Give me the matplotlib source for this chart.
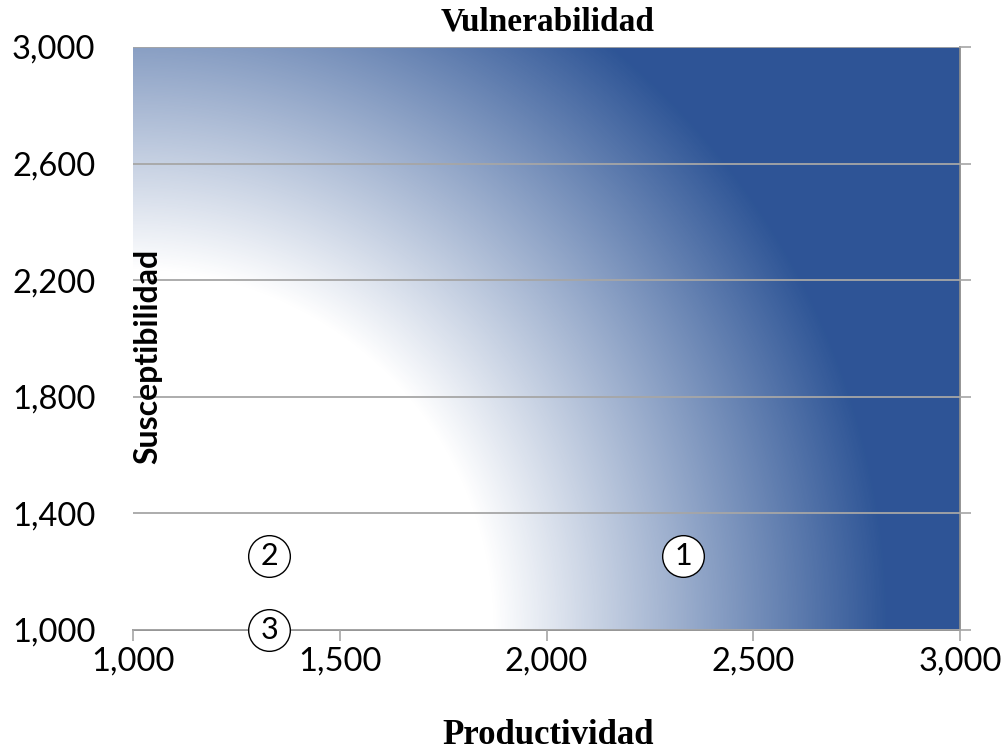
import numpy as np
import matplotlib.pyplot as plt
from matplotlib.colors import LinearSegmentedColormap

# scatter points
prod = [2330, 1330, 1330]
susc = [1255, 1255, 1000]
labels = ["1", "2", "3"]

x_ticks = [1000, 1500, 2000, 2500, 3000]
y_ticks = [1000, 1400, 1800, 2200, 2600, 3000]

blue = "#2E5596"
grid_gray = "#A6A6A6"

fig = plt.figure(figsize=(10.05, 7.51), dpi=100)
ax = fig.add_axes([133 / 1005, 1 - 630 / 751, 827 / 1005, 583 / 751])

# radial background gradient from the bottom-left corner (in pixel space)
w, h = 827, 583
px = np.arange(w)[None, :] + 0.5
py = np.arange(h)[:, None] + 0.5
r = np.sqrt(px ** 2 + py ** 2)
t = np.clip((r - 360) / 395, 0, 1)
cmap = LinearSegmentedColormap.from_list("wb", ["#FFFFFF", blue])
ax.imshow(t, origin="lower", extent=[1000, 3000, 1000, 3000], cmap=cmap,
          vmin=0, vmax=1, aspect="auto", interpolation="bilinear", zorder=0)

ax.set_xlim(1000, 3000)
ax.set_ylim(1000, 3000)
ax.set_xticks(x_ticks)
ax.set_yticks(y_ticks)
ax.set_xticklabels([f"{v:,}" for v in x_ticks])
ax.set_yticklabels([f"{v:,}" for v in y_ticks])

for lab in ax.get_xticklabels() + ax.get_yticklabels():
    lab.set_fontfamily("Lato")
    lab.set_fontsize(23.5)

ax.grid(axis="y", color=grid_gray, linewidth=1.3)
ax.set_axisbelow(False)

for s in ["top", "left"]:
    ax.spines[s].set_visible(False)
for s in ["bottom", "right"]:
    ax.spines[s].set_color("#8C8C8C")
    ax.spines[s].set_linewidth(1.3)

ax.tick_params(axis="x", direction="out", length=8, width=1.2, color=grid_gray, pad=4)
ax.tick_params(axis="y", direction="out", length=8, width=1.2, color=grid_gray,
               left=False, right=True, labelleft=True, labelright=False, pad=19)

# numbered circle markers
ax.scatter(prod, susc, s=30 ** 2, facecolor="white", edgecolor="black",
           linewidth=1.0, zorder=4, clip_on=False)
for x, y, lab in zip(prod, susc, labels):
    ax.text(x, y, lab, ha="center", va="center", fontsize=22, family="Lato",
            zorder=5, clip_on=False)

fig.text(548 / 1005, 1 - 22 / 751, "Vulnerabilidad", ha="center", va="center",
         fontsize=24, fontweight="bold", family="Liberation Serif")
fig.text(548 / 1005, 1 - 735 / 751, "Productividad", ha="center", va="center",
         fontsize=25, fontweight="bold", family="Liberation Serif")
fig.text(148 / 1005, 1 - 356 / 751, "Susceptibilidad", ha="center", va="center",
         rotation=90, fontsize=23, fontweight="bold", family="Lato")

fig.savefig("out.png", dpi=100)
